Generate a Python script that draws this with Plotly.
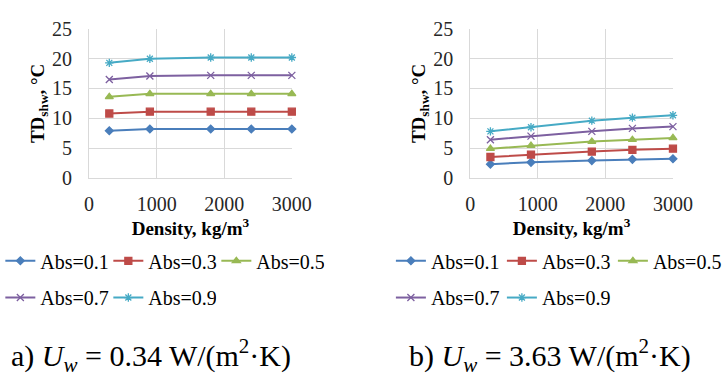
import plotly.graph_objects as go

density = [300, 900, 1800, 2400, 3000]
series_names = ["Abs=0.1", "Abs=0.3", "Abs=0.5", "Abs=0.7", "Abs=0.9"]

# panel a) Uw = 0.34
a_abs01 = [7.9, 8.2, 8.2, 8.2, 8.2]
a_abs03 = [10.8, 11.1, 11.1, 11.1, 11.1]
a_abs05 = [13.6, 14.1, 14.1, 14.1, 14.1]
a_abs07 = [16.5, 17.1, 17.2, 17.2, 17.2]
a_abs09 = [19.3, 20.0, 20.2, 20.2, 20.2]

# panel b) Uw = 3.63
b_abs01 = [2.3, 2.6, 2.9, 3.1, 3.2]
b_abs03 = [3.5, 3.9, 4.4, 4.7, 4.9]
b_abs05 = [4.9, 5.4, 6.1, 6.4, 6.7]
b_abs07 = [6.4, 7.0, 7.8, 8.3, 8.6]
b_abs09 = [7.8, 8.5, 9.6, 10.1, 10.5]

x_ticks = [0, 1000, 2000, 3000]
y_ticks = [0, 5, 10, 15, 20, 25]

colors = ["#4A7EBB", "#BE4B48", "#98B954", "#7D60A0", "#46AAC5"]
symbols = ["diamond", "square", "triangle-up", "x-thin-open", "asterisk-open"]
msizes = [6, 7, 7, 7, 7]

panels = [
    [a_abs01, a_abs03, a_abs05, a_abs07, a_abs09],
    [b_abs01, b_abs03, b_abs05, b_abs07, b_abs09],
]
legend_ids = [["legend", "legend", "legend", "legend2", "legend2"],
              ["legend3", "legend3", "legend3", "legend4", "legend4"]]

W, H = 724, 383
FONT = "Liberation Serif, Times New Roman, Times, serif"

fig = go.Figure()
for p, data in enumerate(panels):
    xa = "x" if p == 0 else "x2"
    ya = "y" if p == 0 else "y2"
    for i, ys in enumerate(data):
        fig.add_trace(go.Scatter(
            x=density, y=ys, name=series_names[i], xaxis=xa, yaxis=ya,
            mode="lines+markers",
            line=dict(color=colors[i], width=2),
            marker=dict(symbol=symbols[i], size=msizes[i], color=colors[i],
                        line=dict(color=colors[i], width=1.3)),
            cliponaxis=False,
            legend=legend_ids[p][i],
        ))

def px_x(v):
    return v / W

def px_y(v):
    return (H - v) / H

tick_font = dict(family=FONT, size=20, color="#262626")
axis_common = dict(
    showgrid=True, gridcolor="#D9D9D9", gridwidth=1,
    showline=True, linecolor="#D9D9D9", linewidth=1,
    zeroline=False, ticks="",
    tickfont=tick_font,
)

title_font = dict(family=FONT, size=19, color="#000000", weight="bold")

ydom = [px_y(177), px_y(19)]
layout = dict(
    width=W, height=H, margin=dict(l=0, r=0, t=0, b=0),
    font=dict(family=FONT, size=20, color="#000000"),
    paper_bgcolor="white", plot_bgcolor="white",
    showlegend=True,
    xaxis=dict(domain=[px_x(88), px_x(303)], range=[0, 3000], tickvals=x_ticks,
               anchor="y", ticklabelstandoff=8,
               title=dict(text="Density, kg/m<sup>3</sup>", font=title_font, standoff=4),
               **axis_common),
    yaxis=dict(domain=ydom, range=[0, 25], tickvals=y_ticks, anchor="x",
               ticklabelstandoff=12,
               title=dict(text="TD<sub>shw</sub>, °C", font=title_font, standoff=2),
               **axis_common),
    xaxis2=dict(domain=[px_x(492), px_x(707)], range=[0, 3000], tickvals=x_ticks,
                anchor="y2", ticklabelstandoff=8,
                title=dict(text="Density, kg/m<sup>3</sup>", font=title_font, standoff=4),
                **axis_common),
    yaxis2=dict(domain=ydom, range=[0, 25], tickvals=y_ticks, anchor="x2",
                ticklabelstandoff=12,
                title=dict(text="TD<sub>shw</sub>, °C", font=title_font, standoff=2),
                **axis_common),
)

def leg(xpx, ypx, ew):
    return dict(orientation="h", yanchor="middle", xanchor="left",
                x=px_x(xpx), y=px_y(ypx),
                font=dict(family=FONT, size=20, color="#000000"),
                entrywidth=ew, entrywidthmode="pixels",
                bgcolor="rgba(0,0,0,0)", borderwidth=0, itemclick=False)

layout["legend"] = leg(-6, 265, 63)
layout["legend2"] = leg(-6, 304, 63)
layout["legend3"] = leg(408, 265, 66)
layout["legend4"] = leg(408, 304, 66)

fig.update_layout(**layout)

cap_font = dict(family=FONT, size=30, color="#000000")
fig.add_annotation(text="a) <i>U<sub>w</sub></i> = 0.34 W/(m<sup>2</sup>·K)",
                   xref="paper", yref="paper", x=px_x(154), y=px_y(365),
                   xanchor="center", yanchor="middle", showarrow=False, font=cap_font)
fig.add_annotation(text="b) <i>U<sub>w</sub></i> = 3.63 W/(m<sup>2</sup>·K)",
                   xref="paper", yref="paper", x=px_x(577), y=px_y(365),
                   xanchor="center", yanchor="middle", showarrow=False, font=cap_font)

fig.write_html("out.html")
